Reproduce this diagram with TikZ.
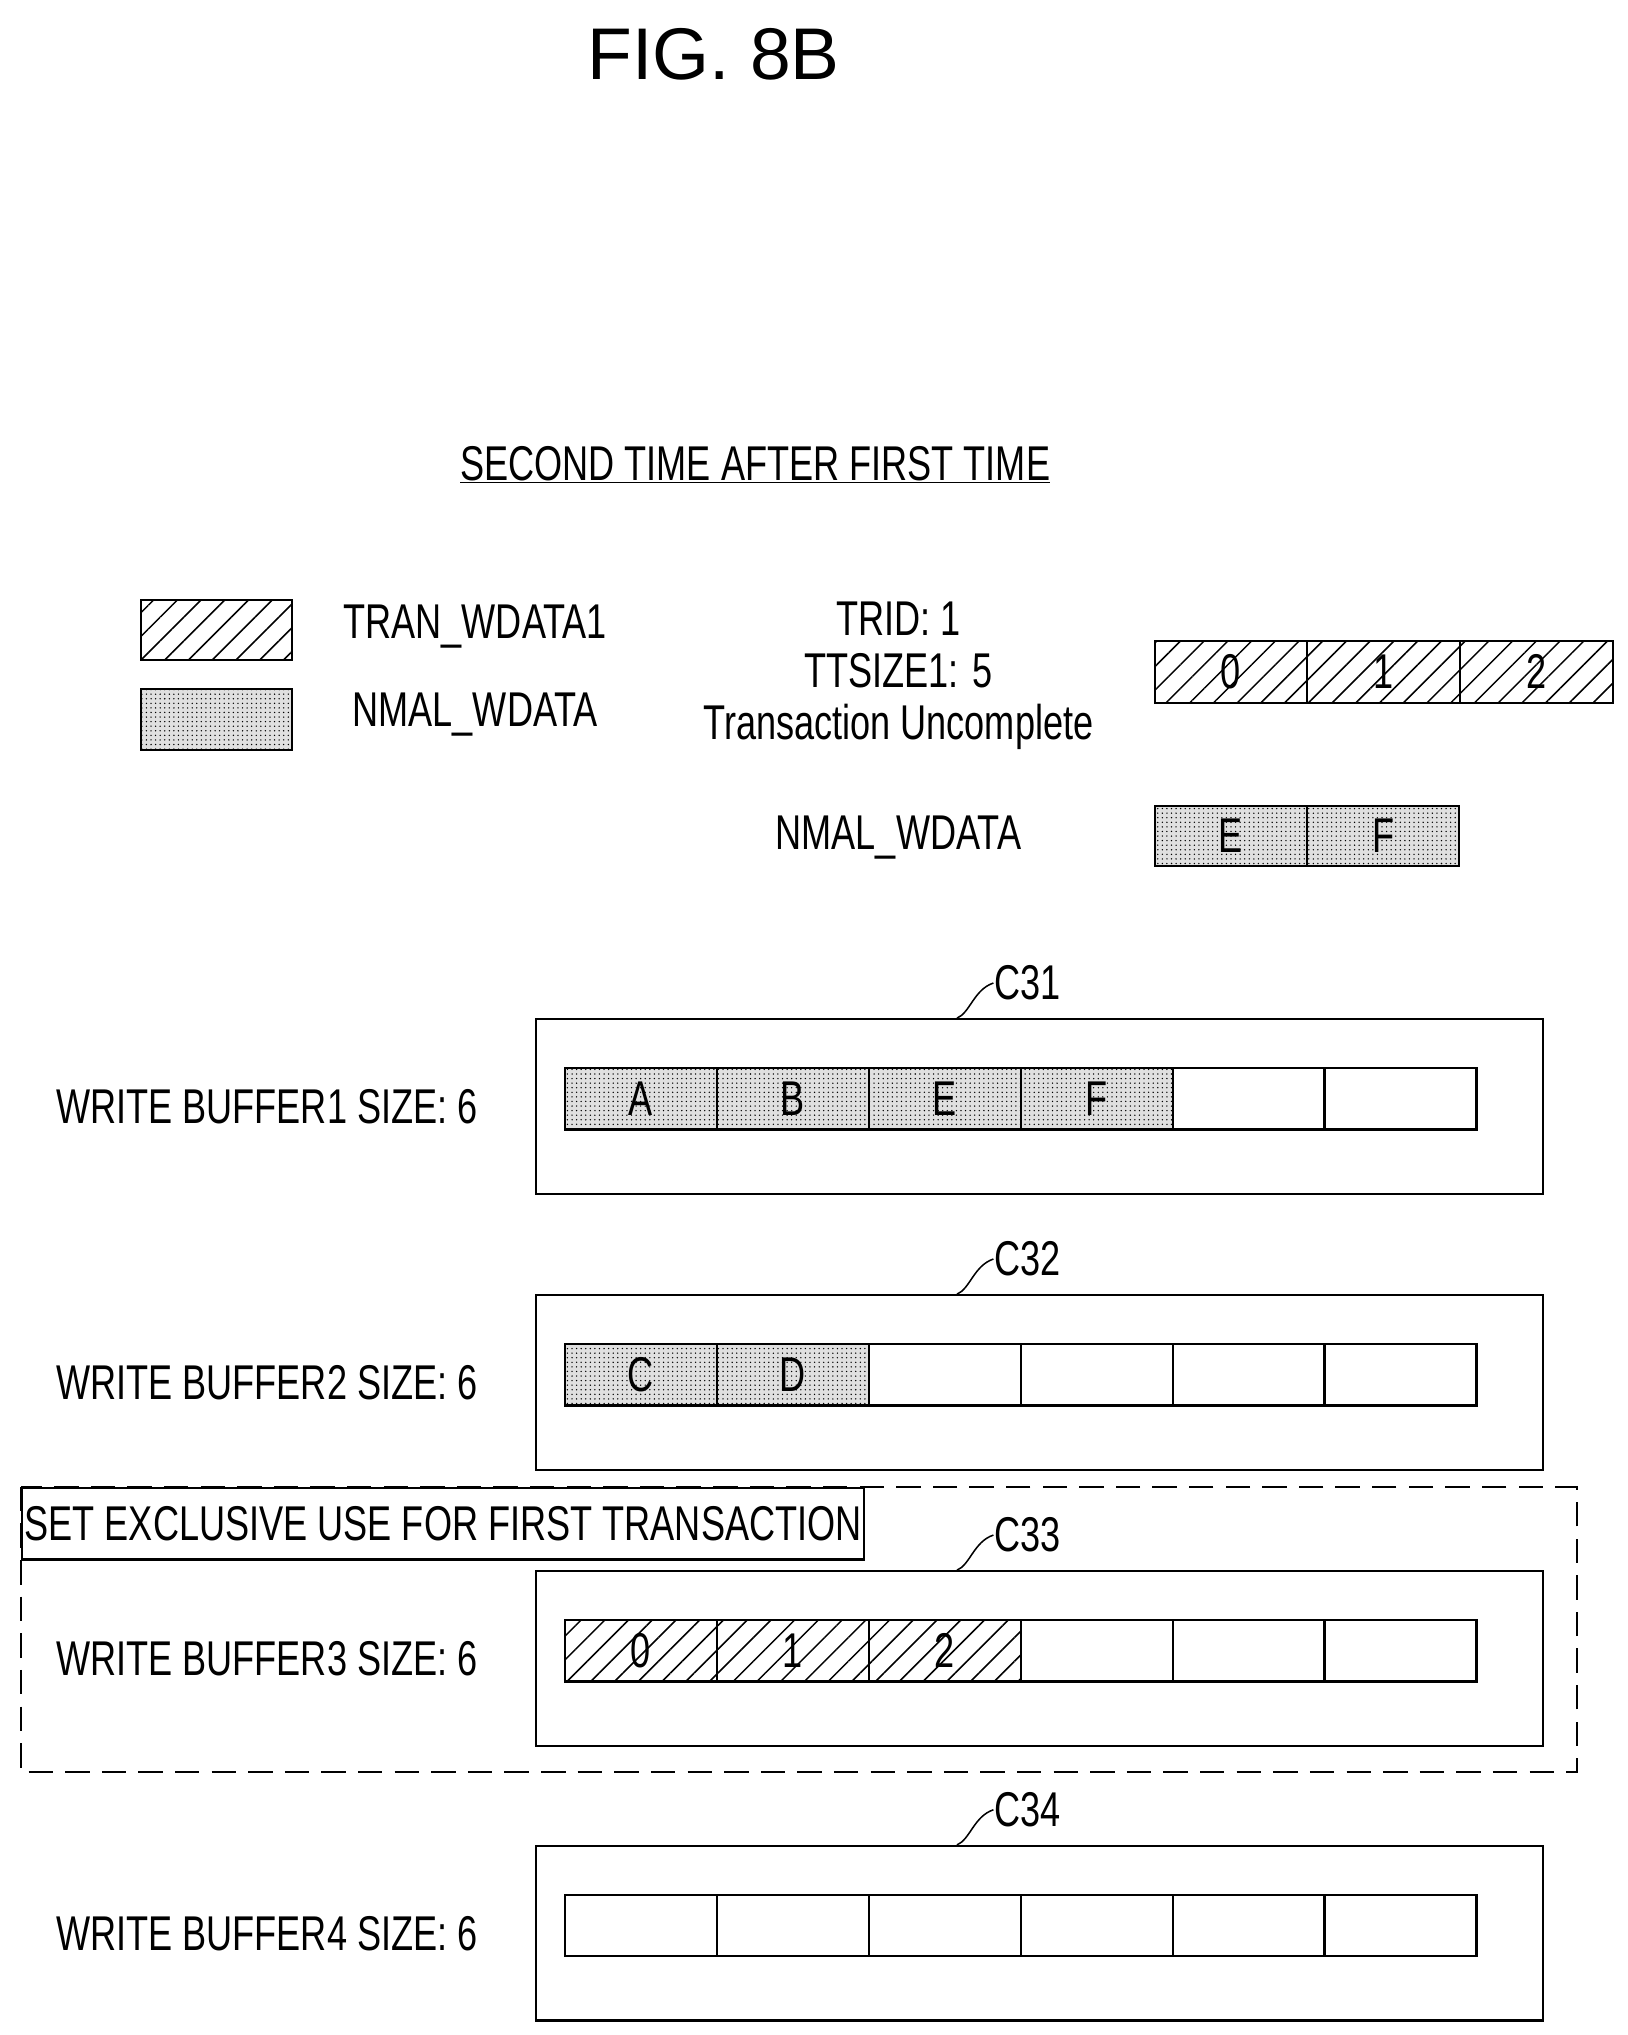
\documentclass[tikz,border=0pt]{standalone}
\usepackage{fontspec}
\setmainfont[FakeStretch=0.74]{Liberation Sans}
\newfontfamily\titlefont{Liberation Sans}
\usetikzlibrary{patterns.meta}
\begin{document}
\begin{tikzpicture}[x=0.03cm,y=-0.03cm,line width=1.4pt,
  txt/.style={font=\fontsize{32}{34}\selectfont,inner sep=0pt},
  hatch/.style={pattern={Lines[angle=45,distance=11pt,line width=1pt]}},
  dotf/.style={fill=black!12,postaction={pattern={Dots[distance=3pt,radius=0.5pt]}}},
  cellbox/.style={draw,minimum width=116.7*0.03cm,minimum height=47*0.03cm,inner sep=0pt,anchor=west,font=\fontsize{32}{34}\selectfont}]
\useasboundingbox (0,0) rectangle (1250,1563);
\node[font=\titlefont\fontsize{48}{54}\selectfont] (title) at (548,42) {FIG. 8B};
\node[txt] (sub) at (580,357) {\underline{SECOND TIME AFTER FIRST TIME}};
% legend
\draw[hatch] (108,461) rectangle (224,507);
\draw (108,461) rectangle (224,507);
\draw[dotf] (108,529) rectangle (224,576);
\draw (108,529) rectangle (224,576);
\node[txt] (l1) at (365,481) {TRAN\_WDATA1};
\node[txt] (l2) at (365,549) {NMAL\_WDATA};
\node[txt,align=center] (info) at (690,519) {TRID: 1\\TTSIZE1: 5\\Transaction Uncomplete};
\node[txt] (l3) at (690,643) {NMAL\_WDATA};
\foreach \t [count=\i from 0] in {0,1,2}
  \node[cellbox,hatch,minimum width=117.3*0.03cm,minimum height=48*0.03cm] (t\i) at (886+117.3*\i,516) {\t};
\foreach \t [count=\i from 0] in {E,F}
  \node[cellbox,dotf,minimum width=117*0.03cm,minimum height=46*0.03cm] (n\i) at (886+117*\i,642) {\t};
% buffers
\draw[dash pattern=on 16pt off 8pt] (16,1142) rectangle (1211,1361);
\node[draw,txt,minimum width=647*0.03cm,minimum height=55*0.03cm,anchor=north west,inner sep=0pt] (ex) at (16,1142) {SET EXCLUSIVE USE FOR FIRST TRANSACTION};
\foreach \k/\y in {1/782,2/994,3/1206,4/1417}{
  \node[draw,minimum width=773*0.03cm,minimum height=134*0.03cm,anchor=north west,inner sep=0pt] (buf\k) at (411,\y) {};
  \node[txt] (lab\k) at (205,\y+68) {WRITE BUFFER\k\ SIZE: 6};
  \node[txt,anchor=west] (c\k) at (763,\y-27) {C3\k};
  \draw[line width=1pt] (735,\y) .. controls (745,\y-4) and (748,\y-22) .. (c\k.west);
}
\foreach \t/\s [count=\i from 0] in {A/dotf,B/dotf,E/dotf,F/dotf,/draw,/draw}
  \node[cellbox,\s] (a\i) at (433+116.7*\i,844) {\t};
\foreach \t/\s [count=\i from 0] in {C/dotf,D/dotf,/draw,/draw,/draw,/draw}
  \node[cellbox,\s] (b\i) at (433+116.7*\i,1056) {\t};
\foreach \t/\s [count=\i from 0] in {0/hatch,1/hatch,2/hatch,/draw,/draw,/draw}
  \node[cellbox,\s] (d\i) at (433+116.7*\i,1268) {\t};
\foreach \i in {0,...,5}
  \node[cellbox] (e\i) at (433+116.7*\i,1479) {};
\end{tikzpicture}
\end{document}
